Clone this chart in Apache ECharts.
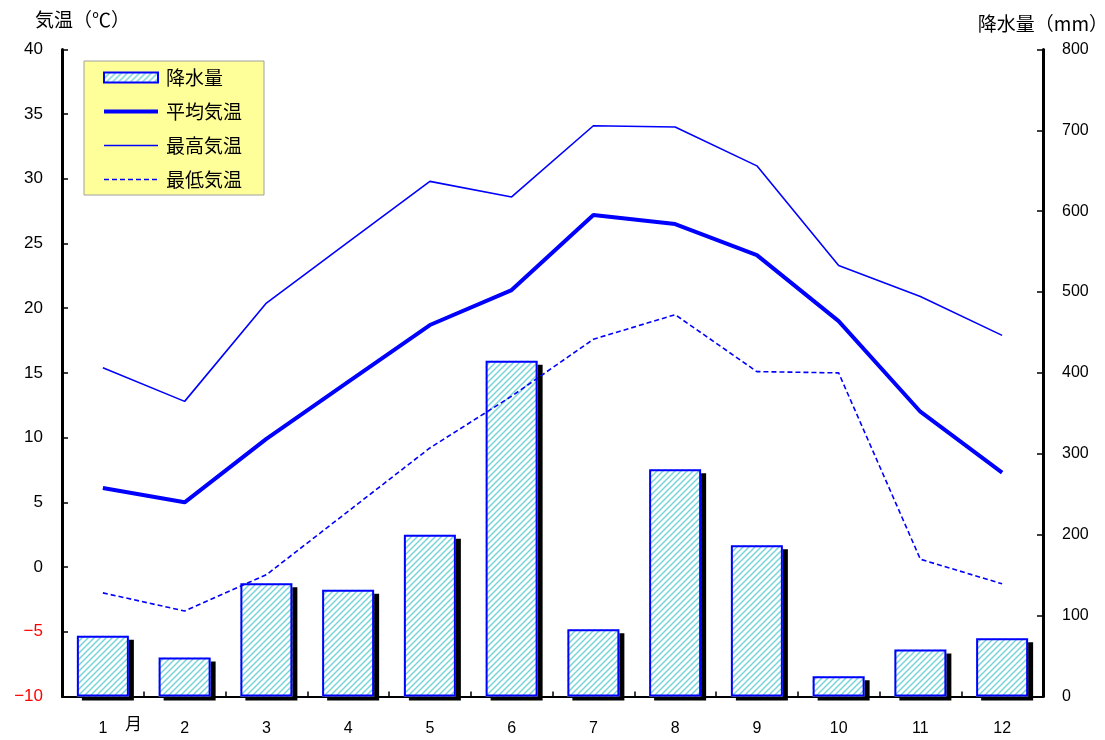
<!DOCTYPE html>
<html><head><meta charset="utf-8">
<script src="https://cdn.jsdelivr.net/npm/echarts@6/dist/echarts.min.js"></script>
<style>html,body{margin:0;padding:0;background:#fff}#c{width:1105px;height:740px}</style>
</head><body><div id="c"></div>
<script>
const months = ['1','2','3','4','5','6','7','8','9','10','11','12'];
const precipitation = [75, 48, 140, 132, 200, 415, 83, 281, 187, 25, 58, 72];
const avgTemp = [6.1, 5.0, 9.9, 14.3, 18.7, 21.4, 27.2, 26.5, 24.1, 19.0, 12.0, 7.3];
const maxTemp = [15.4, 12.8, 20.4, 25.1, 29.8, 28.6, 34.1, 34.0, 31.0, 23.3, 20.9, 17.9];
const minTemp = [-2.0, -3.4, -0.6, 4.3, 9.2, 13.2, 17.6, 19.5, 15.1, 15.0, 0.6, -1.3];
const tempTicks = {min: -10, max: 40, interval: 5};
const precTicks = {min: 0, max: 800, interval: 100};
const names = ['降水量', '平均気温', '最高気温', '最低気温'];

const FONT = '"Liberation Sans", "Noto Sans CJK JP", sans-serif';
const JFONT = '"Noto Sans CJK JP", sans-serif';

function makePattern() {
  const c = document.createElement('canvas');
  const s = 6;
  c.width = s; c.height = s;
  const g = c.getContext('2d');
  g.fillStyle = '#ffffff';
  g.fillRect(0, 0, s, s);
  g.strokeStyle = '#78d4d8';
  g.lineWidth = 1.5;
  g.beginPath();
  g.moveTo(-1, s + 1); g.lineTo(s + 1, -1);
  g.moveTo(-1, 1); g.lineTo(1, -1);
  g.moveTo(s - 1, s + 1); g.lineTo(s + 1, s - 1);
  g.stroke();
  return c;
}
const pattern = {image: makePattern(), repeat: 'repeat'};
const hideSym = {opacity: 0};

const chart = echarts.init(document.getElementById('c'), null, {renderer: 'canvas'});
chart.setOption({
  animation: false,
  backgroundColor: '#ffffff',
  grid: {left: 62, right: 62, top: 49.4, bottom: 43.6, containLabel: false},
  legend: {
    orient: 'vertical',
    left: 84, top: 61,
    padding: [7, 22, 6, 18],
    backgroundColor: '#ffff99',
    borderColor: '#a0a0a0',
    borderWidth: 1,
    borderRadius: 0,
    itemWidth: 54,
    itemHeight: 10,
    itemGap: 15,
    selectedMode: false,
    textStyle: {fontFamily: JFONT, fontSize: 19, color: '#000', padding: [0, 0, 0, 3]},
    data: [
      {name: names[0], icon: 'rect', itemStyle: {color: pattern, borderColor: '#0000ff', borderWidth: 2, shadowBlur: 0, shadowOffsetX: 0, shadowOffsetY: 0, shadowColor: 'transparent'}},
      {name: names[1], itemStyle: hideSym, lineStyle: {width: 4, color: '#0000ff', type: 'solid'}},
      {name: names[2], itemStyle: hideSym, lineStyle: {width: 1.6, color: '#0000ff', type: 'solid'}},
      {name: names[3], itemStyle: hideSym, lineStyle: {width: 1.6, color: '#0000ff', type: [5, 3]}}
    ]
  },
  xAxis: {
    type: 'category',
    data: months,
    boundaryGap: true,
    axisLine: {onZero: false, lineStyle: {color: '#000', width: 2}},
    axisTick: {show: true, inside: true, length: 5, lineStyle: {color: '#000', width: 1.5}},
    axisLabel: {margin: 24, fontFamily: FONT, fontSize: 16, color: '#000'},
    splitLine: {show: false}
  },
  yAxis: [
    {
      type: 'value', min: tempTicks.min, max: tempTicks.max, interval: tempTicks.interval,
      position: 'left',
      axisLine: {show: true, onZero: false, lineStyle: {color: '#000', width: 3}},
      axisTick: {show: true, inside: true, length: 6, lineStyle: {color: '#000', width: 1.5}},
      axisLabel: {margin: 19, fontFamily: FONT, fontSize: 17,
        color: function (v) { return Number(v) < 0 ? '#ff0000' : '#000'; },
        formatter: function (v) { return v < 0 ? '\u2212' + Math.abs(v) : String(v); }},
      splitLine: {show: false}
    },
    {
      type: 'value', min: precTicks.min, max: precTicks.max, interval: precTicks.interval,
      position: 'right',
      axisLine: {show: true, onZero: false, lineStyle: {color: '#000', width: 3}},
      axisTick: {show: true, inside: true, length: 6, lineStyle: {color: '#000', width: 1.5}},
      axisLabel: {margin: 19, fontFamily: FONT, fontSize: 16, color: '#000'},
      splitLine: {show: false}
    }
  ],
  series: [
    {
      name: names[0], type: 'bar', yAxisIndex: 1, data: precipitation, barWidth: 52,
      itemStyle: {color: pattern, borderWidth: 0,
        shadowColor: '#000', shadowBlur: 0, shadowOffsetX: 5, shadowOffsetY: 4},
      emphasis: {disabled: true}, z: 2
    },
    {
      name: names[0], type: 'bar', yAxisIndex: 1, data: precipitation, barWidth: 52, barGap: '-100%',
      itemStyle: {color: 'rgba(0,0,0,0)', borderColor: '#0000ff', borderWidth: 2},
      emphasis: {disabled: true}, z: 3
    },
    {
      name: names[1], type: 'line', yAxisIndex: 0, data: avgTemp, symbol: 'none',
      lineStyle: {color: '#0000ff', width: 4}, itemStyle: {color: '#0000ff'}, z: 5
    },
    {
      name: names[2], type: 'line', yAxisIndex: 0, data: maxTemp, symbol: 'none',
      lineStyle: {color: '#0000ff', width: 1.6}, itemStyle: {color: '#0000ff'}, z: 5
    },
    {
      name: names[3], type: 'line', yAxisIndex: 0, data: minTemp, symbol: 'none',
      lineStyle: {color: '#0000ff', width: 1.6, type: [5, 3]}, itemStyle: {color: '#0000ff'}, z: 5
    }
  ],
  graphic: [
    {type: 'text', x: 35, y: 10, style: {text: '気温（℃）', fontFamily: JFONT, fontSize: 19, fill: '#000'}},
    {type: 'text', x: 1108, y: 14, style: {text: '降水量（mm）', textAlign: 'right', fontFamily: JFONT, fontSize: 19, fill: '#000'}},
    {type: 'text', x: 125, y: 715, style: {text: '月', fontFamily: JFONT, fontSize: 17, fill: '#000'}}
  ]
});
</script></body></html>
